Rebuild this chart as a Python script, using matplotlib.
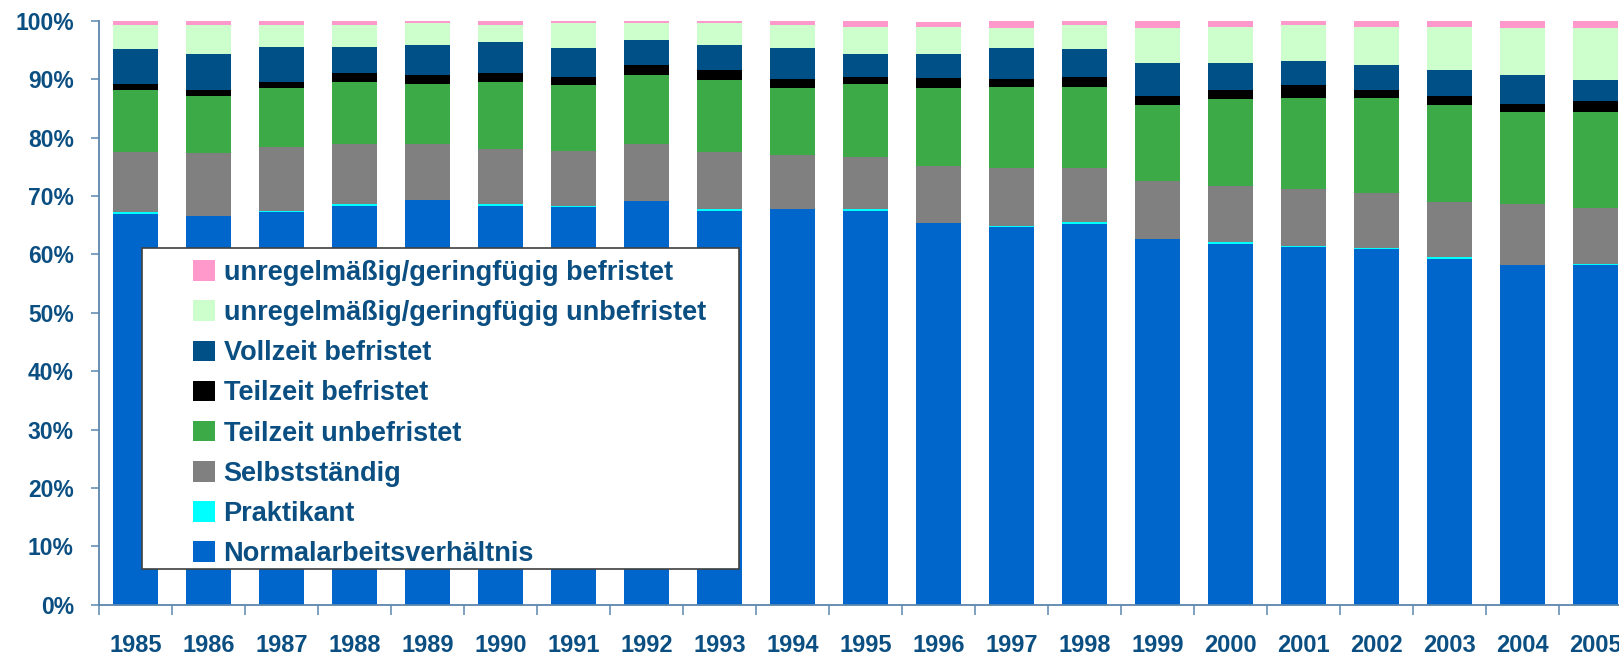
import numpy as np
import matplotlib
matplotlib.use("Agg")
import matplotlib.pyplot as plt
from matplotlib.patches import Rectangle, Patch

# Anteile der Erwerbsformen in %, 1985 - 2005
jahre = [str(j) for j in range(1985, 2006)]

normal = [66.9, 66.6, 67.3, 68.3, 69.3, 68.3, 68.1, 69.2, 67.5, 67.8, 67.5,
          65.4, 64.7, 65.2, 62.7, 61.8, 61.3, 60.9, 59.2, 58.2, 58.2]
praktikant = [0.34, 0.0, 0.18, 0.35, 0.0, 0.35, 0.17, 0.0, 0.34, 0.0, 0.34,
              0.0, 0.17, 0.34, 0.0, 0.35, 0.17, 0.17, 0.34, 0.0, 0.17]
selbst = [10.4, 10.8, 11.0, 10.3, 9.6, 9.4, 9.4, 9.8, 9.8, 9.3, 8.8,
          9.8, 10.0, 9.3, 9.9, 9.6, 9.8, 9.4, 9.5, 10.5, 9.6]
tz_unbef = [10.5, 9.8, 10.1, 10.6, 10.3, 11.5, 11.3, 11.8, 12.3, 11.5, 12.6,
            13.3, 13.8, 13.8, 13.0, 14.9, 15.6, 16.3, 16.6, 15.7, 16.4]
tz_bef = [1.0, 0.9, 1.0, 1.6, 1.6, 1.6, 1.4, 1.7, 1.7, 1.4, 1.2,
          1.7, 1.4, 1.7, 1.5, 1.5, 2.1, 1.4, 1.5, 1.4, 1.9]
vz_bef = [6.0, 6.3, 6.0, 4.4, 5.1, 5.3, 5.0, 4.3, 4.3, 5.3, 3.9,
          4.1, 5.3, 4.8, 5.7, 4.6, 4.1, 4.3, 4.5, 5.0, 3.6]
irr_unbef = [4.1, 5.0, 3.8, 3.8, 3.8, 2.9, 4.3, 2.9, 3.8, 4.1, 4.6,
             4.6, 3.4, 4.1, 6.0, 6.2, 6.3, 6.5, 7.4, 8.0, 8.9]
irr_bef = [0.7, 0.7, 0.7, 0.7, 0.3, 0.7, 0.3, 0.3, 0.3, 0.7, 1.0,
           1.0, 1.2, 0.7, 1.2, 1.0, 0.7, 1.0, 1.0, 1.2, 1.2]

reihen = [
    ("Normalarbeitsverhältnis", normal, "#0066CC"),
    ("Praktikant", praktikant, "#00FFFF"),
    ("Selbstständig", selbst, "#808080"),
    ("Teilzeit unbefristet", tz_unbef, "#3CAA46"),
    ("Teilzeit befristet", tz_bef, "#000000"),
    ("Vollzeit befristet", vz_bef, "#005088"),
    ("unregelmäßig/geringfügig unbefristet", irr_unbef, "#CCFFCC"),
    ("unregelmäßig/geringfügig befristet", irr_bef, "#FF99CC"),
]

textfarbe = "#0B4F82"
achsfarbe = "#5B86AD"
plt.rcParams['font.family'] = ['Liberation Sans', 'DejaVu Sans']
plt.rcParams['font.weight'] = 'bold'

fig = plt.figure(figsize=(16.19, 6.57), dpi=100)
ax = fig.add_axes([0.061, 0.0796, 0.947, 0.8884])

x = np.arange(len(jahre))
unten = np.zeros(len(jahre))
for name, werte, farbe in reihen:
    werte = np.array(werte, dtype=float)
    ax.bar(x, werte, 0.62, bottom=unten, color=farbe, label=name, zorder=2)
    unten += werte

ax.set_xlim(-0.5, 20.5)
ax.set_ylim(0, 100)
ax.set_yticks(np.arange(0, 101, 10))
ax.set_yticklabels([f"{v}%" for v in range(0, 101, 10)])
ax.set_xticks(x)
ax.set_xticklabels(jahre)
ax.set_xticks(np.arange(-0.5, 20.6, 1), minor=True)

for s in ["top", "right"]:
    ax.spines[s].set_visible(False)
for s in ["left", "bottom"]:
    ax.spines[s].set_color(achsfarbe)
    ax.spines[s].set_linewidth(1.3)
    ax.spines[s].set_zorder(3)

ax.tick_params(axis="y", length=6, width=1.1, color=achsfarbe, pad=12,
               labelsize=16.5, labelcolor=textfarbe)
ax.tick_params(axis="x", which="major", length=0, pad=21,
               labelsize=17, labelcolor=textfarbe)
ax.tick_params(axis="x", which="minor", length=7, width=1.1, color=achsfarbe)

# Legende mit eigenem Rahmen
rahmen = Rectangle((0.088, 0.134), 0.3685, 0.4885, transform=fig.transFigure,
                   facecolor="white", edgecolor="#404040", linewidth=1.2,
                   zorder=5, clip_on=False)
ax.add_patch(rahmen)
handles = [Patch(facecolor=f, edgecolor="none") for _, _, f in reihen][::-1]
labels = [n for n, _, _ in reihen][::-1]
leg = ax.legend(handles, labels, loc="upper left",
                bbox_to_anchor=(0.1195, 0.604), bbox_transform=fig.transFigure,
                frameon=False, fontsize=19.5, handlelength=0.78,
                handleheight=0.8, handletextpad=0.33, labelspacing=0.52,
                borderpad=0, borderaxespad=0)
for t in leg.get_texts():
    t.set_color(textfarbe)
leg.set_zorder(6)

fig.savefig("out.png", dpi=100)
